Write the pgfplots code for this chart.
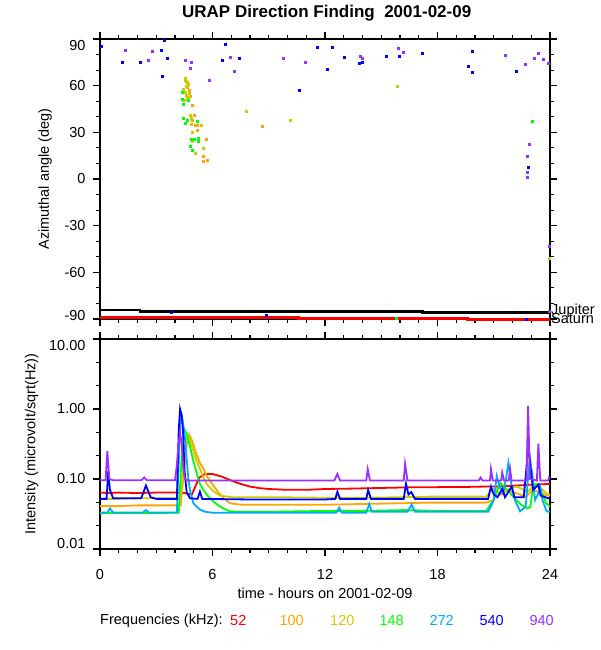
\documentclass[border=0pt]{standalone}
\usepackage{pgfplots}
\pgfplotsset{compat=1.18}
\usepackage{fontspec}
\setmainfont{Liberation Sans}
\definecolor{c52}{RGB}{255,0,0}
\definecolor{c100}{RGB}{255,165,0}
\definecolor{c120}{RGB}{204,204,0}
\definecolor{c148}{RGB}{0,255,0}
\definecolor{c272}{RGB}{0,170,255}
\definecolor{c540}{RGB}{0,0,255}
\definecolor{c940}{RGB}{155,48,255}
\newcommand{\fs}{\fontsize{14.5}{16}\selectfont}
\pgfplotsset{
  urap/.style={
    scale only axis, width=450pt,
    xmin=0, xmax=24,
    xtick={0,6,12,18,24}, minor xtick={1,2,3,4,5,7,8,9,10,11,13,14,15,16,17,19,20,21,22,23},
    tick align=outside,
    major tick length=7pt, minor tick length=4pt,
    axis line style={line width=1.3pt},
    every tick/.style={black, line width=1.2pt},
    ticklabel style={font=\fs},
    yticklabel style={xshift=-4pt},
    xticklabel style={yshift=-10pt},
    label style={font=\fs},
    /pgf/number format/assume math mode=true,
  }
}
\begin{document}
\begin{tikzpicture}[x=1pt,y=1pt]
\useasboundingbox (0,0) rectangle (600,650);
\node[font=\bfseries\fontsize{17}{19}\selectfont] at (326.7,636.7) {URAP Direction Finding\ \ 2001-02-09};

% ---------------- top panel ----------------
\begin{axis}[urap, at={(100pt,331pt)}, anchor=south west, height=280pt,
  ymin=-90, ymax=90, clip=false,
  ytick={-90,-60,-30,0,30,60,90},
  yticklabels={\raisebox{3pt}[\height][\depth]{-90},-60,-30,0,30,60,\raisebox{-7pt}[\height][\depth]{90}},
  minor ytick={-80,-70,-50,-40,-20,-10,10,20,40,50,70,80},
  xticklabels={},
  ylabel={Azimuthal angle (deg)},
  ylabel style={at={(axis description cs:-0.122,0.5)}, anchor=center},
]
\addplot[black, line width=2.4pt] coordinates {(0,-84.3)(2.13,-84.3)(2.13,-85.3)(17.2,-85.3)(17.2,-85.9)(24,-85.9)};
\addplot[c52, line width=3pt] coordinates {(0,-88.8)(10.56,-88.8)(10.56,-89.5)(19.6,-89.5)(19.6,-90.1)(24,-90.1)};
% 540 kHz
\addplot[only marks, mark=square*, mark size=1pt, c540] coordinates {
(0.04,85.5)(1.21,74.8)(2.17,74.8)(3.27,83)(3.41,89.4)(3.59,77.6)(3.34,65.8)
(6.69,86.6)(6.51,76.5)(7.43,77.6)(10.6,57.2)(11.59,85)(12.37,85)(12.12,70.9)
(13.05,78)(13.83,74.2)(13.97,74.8)(15.27,78.7)(15.95,78.7)(17.17,80.6)
(19.84,81.9)(19.64,72.4)(19.84,68.8)(22.19,69.5)(22.83,7.3)
(3.82,-85.7)(8.85,-87.7)(22.72,-90)};
% 940 kHz
\addplot[only marks, mark=square*, mark size=1pt, c940] coordinates {
(1.32,82.7)(2.81,81.9)(2.56,76.3)(4.52,76.1)(4.84,75.4)(4.8,71.2)(5.8,63.2)
(6.97,78.6)(7.18,69.6)(9.78,77.4)(10.92,75.4)
(13.87,78.9)(13.97,77.8)(15.91,84.4)(16.18,81.4)(21.6,79.7)(22.67,73.9)
(23.15,77.6)(23.36,81)(23.65,77.2)(23.91,74.4)
(22.88,22.5)(22.79,14.8)(22.79,4.5)(22.81,1.1)(23.96,-43.5)(23.96,-85.3)};
% 100 kHz
\addplot[only marks, mark=square*, mark size=1pt, c100] coordinates {
(4.53,63.2)(4.64,62)(4.76,57.2)(4.8,53.4)(4.92,47.6)(5.0,40.9)(4.91,37.9)
(5.08,34.9)(5.19,34.7)(5.16,31.5)(5.69,25.7)(5.51,14.4)(5.74,12.4)(5.48,11.6)(8.66,33.9)};
% 120 kHz
\addplot[only marks, mark=square*, mark size=1pt, c120] coordinates {
(4.57,65.1)(4.52,63.2)(4.62,62.6)(4.71,61.1)(4.59,59.4)(4.66,58.9)(4.53,56.1)
(4.76,55.1)(4.62,54)(4.44,57.6)(4.48,50.8)(4.66,51.9)(4.73,52.9)(4.8,40.7)
(4.84,39)(4.89,35.4)(5.42,34.3)(4.92,29.8)(4.91,24.4)(5.48,20.1)(5.08,16.9)
(7.82,43.3)(10.13,37.5)(15.86,59.6)(23.96,-51.2)};
% 148 kHz
\addplot[only marks, mark=square*, mark size=1pt, c148] coordinates {
(4.37,55.5)(4.41,51.2)(4.43,47.8)(4.69,50.4)(4.43,39.2)(4.66,37.5)(4.53,35.6)
(5.19,37.3)(4.85,25.9)(5.05,25.9)(5.23,26.4)(5.26,24.6)(4.8,21.4)(4.94,18.2)
(23.07,37.1)(15.82,-89.6)};
\end{axis}
\node[anchor=west, font=\fs, inner sep=0pt] at (551,338.8) {Jupiter};
\node[anchor=west, font=\fs, inner sep=0pt] at (551,331.2) {Saturn};

% ---------------- bottom panel ----------------
\begin{axis}[urap, at={(100pt,101pt)}, anchor=south west, height=210pt,
  ymode=log, ymin=0.01, ymax=10,
  ytick={0.01,0.1,1,10},
  yticklabels={\raisebox{5pt}[\height][\depth]{0.01},0.10,1.00,\raisebox{-7pt}[\height][\depth]{10.00}},
  minor ytick={0.02154,0.04642,0.2154,0.4642,2.154,4.642},
  xticklabels={0,6,12,18,24},
  xlabel={time - hours on 2001-02-09},
  xlabel style={at={(axis description cs:0.5,-0.211)}, anchor=center},
  ylabel={Intensity (microvolt/sqrt(Hz))},
  ylabel style={at={(axis description cs:-0.152,0.5)}, anchor=center},
  every axis plot/.append style={line width=1.8pt},
]
\addplot[c52] coordinates {
(0,0.064)(0.5,0.063)(1,0.064)(2,0.063)(3,0.064)(4,0.064)(4.5,0.063)(4.9,0.060)
(5.1,0.08)(5.3,0.105)(5.6,0.118)(6.0,0.118)(6.5,0.108)(7.0,0.095)(7.5,0.085)
(8.0,0.078)(8.5,0.074)(9.0,0.072)(10,0.070)(11,0.070)(12,0.072)(13.5,0.073)
(14.5,0.074)(15.5,0.075)(16.5,0.076)(17.5,0.076)(18.5,0.077)(19.5,0.077)
(20.5,0.078)(21,0.078)(22,0.08)(23,0.083)(24,0.085)};
\addplot[c100] coordinates {
(0,0.041)(1,0.041)(2,0.042)(3,0.042)(4,0.042)(4.3,0.042)(4.5,0.15)(4.65,0.35)
(4.76,0.43)(4.9,0.36)(5.16,0.22)(5.33,0.17)(5.51,0.14)(5.7,0.11)(6.04,0.081)
(6.3,0.065)(6.58,0.054)(6.93,0.045)(7.5,0.043)(9,0.043)(11,0.043)(12.3,0.043)
(14,0.044)(16,0.045)(17.6,0.046)(20.6,0.046)(21.0,0.05)(21.16,0.067)(21.4,0.06)
(21.78,0.07)(22.0,0.065)(22.4,0.06)(22.7,0.055)(23.1,0.07)(23.4,0.065)(23.8,0.058)(24,0.058)};
\addplot[c120] coordinates {
(0,0.052)(1,0.052)(2,0.053)(3,0.053)(4,0.053)(4.3,0.052)(4.45,0.2)(4.66,0.43)
(4.8,0.36)(4.98,0.25)(5.16,0.18)(5.33,0.14)(5.51,0.105)(5.69,0.085)(6.04,0.067)
(6.4,0.058)(7,0.055)(9,0.055)(12,0.054)(14,0.054)(16.3,0.055)(17.6,0.056)
(20.6,0.056)(20.9,0.07)(21.2,0.075)(21.6,0.068)(22.2,0.078)(22.5,0.072)(22.8,0.065)
(23.2,0.085)(23.5,0.075)(23.8,0.062)(24,0.06)};
\addplot[c148] coordinates {
(0,0.0327)(1,0.0327)(2,0.0327)(3,0.0327)(4.2,0.033)(4.35,0.2)(4.5,0.51)(4.62,0.45)
(4.8,0.29)(4.98,0.18)(5.16,0.12)(5.33,0.085)(5.51,0.07)(5.8,0.055)(6.04,0.048)
(6.3,0.042)(6.58,0.038)(6.93,0.0345)(7.5,0.034)(9,0.034)(12,0.035)(14,0.035)
(16.3,0.036)(18,0.035)(20.6,0.035)(20.98,0.05)(21.2,0.07)(21.33,0.088)(21.5,0.08)
(21.87,0.063)(22.2,0.05)(22.5,0.042)(22.8,0.038)(22.95,0.04)(23.1,0.078)(23.3,0.085)
(23.5,0.07)(23.8,0.045)(24,0.04)};
\addplot[c272] coordinates {
(0,0.0333)(0.4,0.0333)(0.53,0.038)(0.7,0.0333)(2.3,0.0333)(2.45,0.036)(2.6,0.0333)
(4.1,0.0333)(4.27,0.6)(4.36,0.8)(4.44,0.6)(4.53,0.4)(4.62,0.2)(4.71,0.1)(4.8,0.07)
(4.98,0.045)(5.3,0.037)(5.6,0.034)(6,0.033)(9,0.033)(12,0.033)(12.6,0.033)
(12.76,0.039)(12.9,0.033)(14.2,0.033)(14.36,0.044)(14.5,0.034)(16.4,0.034)
(16.62,0.043)(16.8,0.034)(20.7,0.034)(21.0,0.05)(21.16,0.11)(21.3,0.08)(21.5,0.063)
(21.65,0.1)(21.78,0.17)(21.95,0.08)(22.13,0.05)(22.4,0.0345)(22.7,0.04)(22.85,0.12)
(22.93,0.2)(23.05,0.12)(23.2,0.05)(23.35,0.06)(23.47,0.078)(23.6,0.05)(23.82,0.0345)(24,0.034)};
\addplot[c540] coordinates {
(0,0.052)(0.35,0.052)(0.44,0.13)(0.53,0.07)(0.7,0.053)(2.2,0.053)(2.45,0.081)
(2.7,0.055)(3,0.052)(4.1,0.052)(4.2,0.5)(4.27,1.0)(4.36,0.8)(4.44,0.43)(4.5,0.14)
(4.62,0.065)(4.8,0.053)(5.2,0.052)(5.33,0.066)(5.45,0.052)(8,0.051)(12,0.051)
(12.55,0.052)(12.66,0.066)(12.8,0.052)(14.2,0.052)(14.3,0.07)(14.45,0.052)
(16.2,0.052)(16.32,0.086)(16.45,0.06)(16.6,0.065)(16.8,0.052)(20.7,0.052)
(20.85,0.078)(21.0,0.06)(21.2,0.055)(21.46,0.072)(21.6,0.055)(21.96,0.078)
(22.1,0.055)(22.6,0.055)(22.75,0.15)(22.83,0.36)(22.95,0.15)(23.1,0.07)
(23.38,0.083)(23.5,0.058)(24,0.052)};
\addplot[c940] coordinates {
(0,0.096)(0.3,0.096)(0.39,0.25)(0.5,0.1)(0.7,0.096)(2.2,0.096)(2.36,0.105)
(2.5,0.096)(4.0,0.096)(4.09,0.15)(4.18,0.3)(4.27,0.46)(4.36,0.3)(4.44,0.15)
(4.53,0.1)(4.7,0.095)(12.5,0.095)(12.66,0.118)(12.8,0.095)(14.2,0.095)
(14.28,0.139)(14.4,0.095)(16.2,0.095)(16.27,0.165)(16.4,0.095)(20.2,0.095)
(20.3,0.105)(20.4,0.095)(20.8,0.095)(20.85,0.139)(20.95,0.095)(21.4,0.095)
(21.45,0.124)(21.55,0.095)(21.8,0.095)(21.87,0.139)(21.95,0.095)(22.75,0.095)
(22.83,1.11)(22.93,0.1)(23.3,0.095)(23.38,0.32)(23.48,0.095)(23.9,0.095)
(23.95,0.105)(24,0.1)};
\end{axis}

% ---------------- legend ----------------
\node[anchor=west, font=\fs, inner sep=0pt] at (100,29.3) {Frequencies (kHz):};
\node[font=\fs, text=c52]  at (238.3,29.3) {52};
\node[font=\fs, text=c100] at (291.7,29.3) {100};
\node[font=\fs, text=c120] at (342.3,29.3) {120};
\node[font=\fs, text=c148] at (391.7,29.3) {148};
\node[font=\fs, text=c272] at (441.7,29.3) {272};
\node[font=\fs, text=c540] at (491.7,29.3) {540};
\node[font=\fs, text=c940] at (541.7,29.3) {940};
\end{tikzpicture}
\end{document}
